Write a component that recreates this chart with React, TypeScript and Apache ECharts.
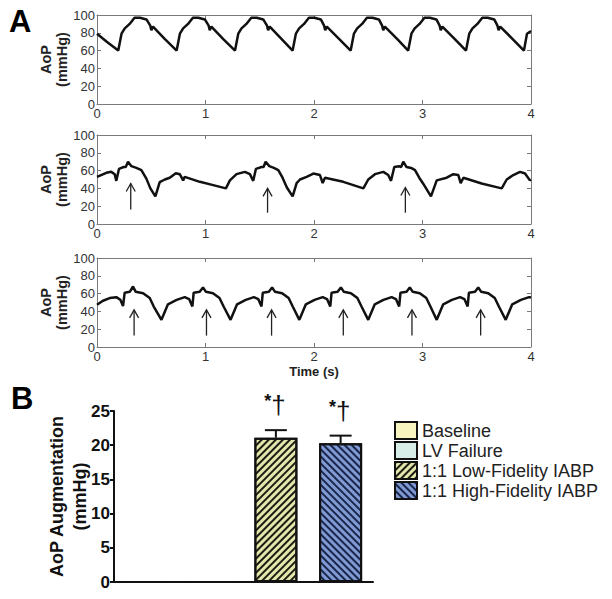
import React, { useEffect, useRef } from "react";
import * as echarts from "echarts";

// ---------- Panel A data (time s, AoP mmHg) ----------
const topTrace: number[][] = [
  [0, 79], [0.09, 70], [0.196, 60],
  [0.226, 79], [0.256, 85], [0.301, 90], [0.346, 97], [0.396, 97], [0.456, 95], [0.491, 88], [0.501, 83], [0.516, 87], [0.626, 73], [0.734, 60],
  [0.764, 79], [0.794, 85], [0.839, 90], [0.884, 97], [0.934, 97], [0.994, 95], [1.029, 88], [1.039, 83], [1.054, 87], [1.164, 73], [1.272, 60],
  [1.302, 79], [1.332, 85], [1.377, 90], [1.422, 97], [1.472, 97], [1.532, 95], [1.567, 88], [1.577, 83], [1.592, 87], [1.702, 73], [1.803, 60],
  [1.833, 79], [1.863, 85], [1.908, 90], [1.953, 97], [2.003, 97], [2.063, 95], [2.093, 88], [2.103, 83], [2.118, 87], [2.233, 73], [2.338, 60],
  [2.368, 79], [2.398, 85], [2.443, 90], [2.488, 97], [2.538, 97], [2.598, 95], [2.628, 88], [2.638, 83], [2.653, 87], [2.768, 73], [2.868, 60],
  [2.898, 79], [2.928, 85], [2.973, 90], [3.018, 97], [3.068, 97], [3.128, 95], [3.158, 88], [3.168, 83], [3.183, 87], [3.298, 73], [3.401, 60],
  [3.431, 79], [3.461, 85], [3.506, 90], [3.551, 97], [3.601, 97], [3.661, 95], [3.691, 88], [3.701, 83], [3.716, 87], [3.831, 73], [3.935, 60],
  [3.963, 79], [4.0, 82],
];

const midTrace: number[][] = [
  [0, 53], [0.086, 57.5], [0.132, 58.6], [0.163, 56], [0.178, 48.5], [0.203, 62], [0.246, 64], [0.265, 64], [0.286, 70], [0.317, 65],
  [0.363, 63], [0.409, 60.5], [0.455, 51], [0.492, 40], [0.538, 31], [0.578, 47], [0.625, 50], [0.671, 52], [0.726, 57], [0.763, 56],
  [0.794, 49], [0.809, 53], [0.948, 47.4], [1.071, 43.7], [1.188, 40], [1.225, 49], [1.286, 56], [1.363, 58.6], [1.409, 56], [1.44, 48.5],
  [1.465, 62], [1.517, 64], [1.535, 64], [1.554, 70], [1.588, 65], [1.63, 63], [1.671, 60.5], [1.71, 52], [1.75, 41], [1.803, 31],
  [1.84, 46], [1.871, 50], [1.932, 53], [1.994, 56.7], [2.055, 55], [2.08, 46], [2.101, 52], [2.27, 47.4], [2.455, 40], [2.5, 50],
  [2.562, 56], [2.639, 58.6], [2.684, 55], [2.71, 48.5], [2.74, 64], [2.783, 65], [2.803, 64], [2.823, 70], [2.853, 64], [2.895, 63],
  [2.931, 60.5], [2.97, 52], [3.008, 45], [3.078, 31], [3.131, 49], [3.223, 52], [3.284, 56], [3.33, 55], [3.352, 46], [3.377, 52],
  [3.545, 45.5], [3.73, 40], [3.776, 50], [3.837, 55], [3.899, 58.6], [3.945, 56.7], [3.99, 49], [4.0, 50],
];

const botTrace: number[][] = [
  [0, 47.4], [0.055, 52], [0.117, 55], [0.178, 56], [0.215, 53], [0.24, 46], [0.255, 61], [0.302, 62], [0.332, 68], [0.357, 62], [0.425, 60.5], [0.486, 55], [0.523, 45.5], [0.594, 30.5],
  [0.654, 48], [0.734, 53], [0.809, 56], [0.849, 53.8], [0.879, 45.5], [0.891, 61], [0.947, 62], [0.977, 67], [1.004, 62], [1.069, 60.5], [1.129, 55], [1.167, 45.5], [1.231, 30.5],
  [1.291, 48], [1.371, 53], [1.446, 56], [1.486, 53.8], [1.516, 45.5], [1.528, 61], [1.584, 62], [1.614, 67], [1.641, 62], [1.706, 60.5], [1.766, 55], [1.804, 45.5], [1.865, 30.5],
  [1.925, 48], [2.005, 53], [2.08, 56], [2.12, 53.8], [2.15, 45.5], [2.162, 61], [2.218, 62], [2.248, 67], [2.275, 62], [2.34, 60.5], [2.4, 55], [2.438, 45.5], [2.5, 30.5],
  [2.56, 48], [2.64, 53], [2.715, 56], [2.755, 53.8], [2.785, 45.5], [2.797, 61], [2.853, 62], [2.883, 67], [2.91, 62], [2.975, 60.5], [3.035, 55], [3.073, 45.5], [3.131, 30.5],
  [3.191, 48], [3.271, 53], [3.346, 56], [3.386, 53.8], [3.416, 45.5], [3.428, 61], [3.484, 62], [3.514, 67], [3.541, 62], [3.606, 60.5], [3.666, 55], [3.704, 45.5], [3.767, 30.5],
  [3.827, 48], [3.907, 53], [3.982, 56], [4.0, 55.6],
];

// arrows: [time, tip value, tail value]
const midArrows: number[][] = [[0.311, 45.5, 16.4], [1.572, 40, 12.7], [2.842, 41, 12.7]];
const botArrows: number[][] = [
  [0.342, 41.7, 12.8], [1.009, 41.7, 12.8], [1.609, 41.7, 12.8],
  [2.27, 41.7, 12.8], [2.903, 41.7, 12.8], [3.536, 41.7, 12.8],
];

// ---------- Panel B data ----------
const barCategories = ["Baseline", "LV Failure", "1:1 Low-Fidelity IABP", "1:1 High-Fidelity IABP"];
const barMeans = [0, 0, 21.1, 20.3];
const barSem = [0, 0, 1.1, 1.1];
const barSig = ["", "", "*†", "*†"];

const FONT = "Liberation Sans";
const GRAY = "#7a7a7a";

export default function App() {
  const ref = useRef<HTMLDivElement>(null);
  useEffect(() => {
    if (!ref.current) return;
    const chart = echarts.init(ref.current, null, { renderer: "svg" });

    const gridsA = [
      { left: 97, top: 15, width: 434, height: 89 },
      { left: 97, top: 135, width: 434, height: 89 },
      { left: 97, top: 258, width: 434, height: 89 },
    ];
    const xAxes: any[] = [];
    const yAxes: any[] = [];
    gridsA.forEach((_, i) => {
      xAxes.push({
        gridIndex: i, type: "value", min: 0, max: 4, interval: 1, position: "bottom",
        axisLine: { show: true, onZero: false, lineStyle: { color: GRAY, width: 1 } },
        axisTick: { show: true, inside: true, length: 4, lineStyle: { color: GRAY } },
        axisLabel: { color: "#333", fontSize: 13, margin: 3, fontFamily: FONT },
        splitLine: { show: false },
        ...(i === 2
          ? { name: "Time (s)", nameLocation: "middle", nameGap: 18, nameMoveOverlap: false,
              nameTextStyle: { fontWeight: "bold", fontSize: 13, color: "#222", fontFamily: FONT } }
          : {}),
      });
      xAxes.push({
        gridIndex: i, type: "value", min: 0, max: 4, interval: 1, position: "top",
        axisLine: { show: true, onZero: false, lineStyle: { color: GRAY, width: 1 } },
        axisTick: { show: true, inside: true, length: 4, lineStyle: { color: GRAY } },
        axisLabel: { show: false }, splitLine: { show: false },
      });
      yAxes.push({
        gridIndex: i, type: "value", min: 0, max: 100, interval: 20, position: "left",
        axisLine: { show: true, onZero: false, lineStyle: { color: GRAY, width: 1 } },
        axisTick: { show: true, inside: true, length: 4, lineStyle: { color: GRAY } },
        axisLabel: { color: "#333", fontSize: 13, margin: 2, fontFamily: FONT },
        splitLine: { show: false },
        name: "AoP\n(mmHg)", nameLocation: "middle", nameGap: 27, nameMoveOverlap: false,
        nameTextStyle: { fontWeight: "bold", fontSize: 14.5, lineHeight: 16, color: "#222", fontFamily: FONT },
      });
      yAxes.push({
        gridIndex: i, type: "value", min: 0, max: 100, interval: 20, position: "right",
        axisLine: { show: true, onZero: false, lineStyle: { color: GRAY, width: 1 } },
        axisTick: { show: true, inside: true, length: 4, lineStyle: { color: GRAY } },
        axisLabel: { show: false }, splitLine: { show: false },
      });
    });
    // bar panel axes (index 6)
    xAxes.push({
      gridIndex: 3, type: "category", data: barCategories,
      axisLine: { show: true, onZero: false, lineStyle: { color: "#111", width: 2 } },
      axisTick: { show: false }, axisLabel: { show: false }, splitLine: { show: false },
    });
    yAxes.push({
      gridIndex: 3, type: "value", min: 0, max: 25, interval: 5,
      axisLine: { show: true, onZero: false, lineStyle: { color: "#111", width: 2 } },
      axisTick: { show: true, length: 4, lineStyle: { color: "#111", width: 2 } },
      axisLabel: { color: "#111", fontSize: 17, fontWeight: "bold", margin: 4, fontFamily: FONT },
      splitLine: { show: false },
      name: "AoP Augmentation\n(mmHg)", nameLocation: "middle", nameGap: 23, nameMoveOverlap: false,
      nameTextStyle: { fontWeight: "bold", fontSize: 18, lineHeight: 23, color: "#111", fontFamily: FONT },
    });

    const traceSeries = [topTrace, midTrace, botTrace].map((d, i) => ({
      type: "line", xAxisIndex: 2 * i, yAxisIndex: 2 * i, data: d, symbol: "none",
      lineStyle: { color: "#111", width: 2.5 }, silent: true,
    }));

    const arrowRender = (params: any, api: any) => {
      const tip = api.coord([api.value(0), api.value(1)]);
      const tail = api.coord([api.value(0), api.value(2)]);
      return {
        type: "group",
        children: [
          { type: "line", shape: { x1: tail[0], y1: tail[1], x2: tip[0], y2: tip[1] },
            style: { stroke: "#222", lineWidth: 1.3 } },
          { type: "polyline", shape: { points: [[tip[0] - 4.5, tip[1] + 8], [tip[0], tip[1]], [tip[0] + 4.5, tip[1] + 8]] },
            style: { stroke: "#222", lineWidth: 1.3, fill: "none" } },
        ],
      };
    };
    const arrowSeries = [
      { type: "custom", xAxisIndex: 2, yAxisIndex: 2, data: midArrows, renderItem: arrowRender, silent: true },
      { type: "custom", xAxisIndex: 4, yAxisIndex: 4, data: botArrows, renderItem: arrowRender, silent: true },
    ];

    const barStyles = [
      { color: "#f7f4bf", borderColor: "#111", borderWidth: 2 },
      { color: "#d6eee7", borderColor: "#111", borderWidth: 2 },
      { color: "#e4e7ad", borderColor: "#111", borderWidth: 2,
        decal: { symbol: "rect", symbolSize: 1, dashArrayX: [1, 0], dashArrayY: [2, 2.5], rotation: -Math.PI / 4, color: "#1c1c10" } },
      { color: "#7f9ad4", borderColor: "#111", borderWidth: 2,
        decal: { symbol: "rect", symbolSize: 1, dashArrayX: [1, 0], dashArrayY: [2, 2.5], rotation: Math.PI / 4, color: "#1b2748" } },
    ];
    const barSeries = barCategories.map((name, i) => ({
      type: "bar", name, xAxisIndex: 6, yAxisIndex: 6, barWidth: 43, barGap: "-100%",
      data: barCategories.map((_, j) => (j === i ? barMeans[i] : "-")),
      itemStyle: barStyles[i], silent: true,
    }));

    const errData = barMeans
      .map((m, i) => [i, m, m + barSem[i], i])
      .filter((d) => barSem[d[0]] > 0);
    const errSeries = {
      type: "custom", xAxisIndex: 6, yAxisIndex: 6, data: errData, silent: true, z: 1,
      renderItem: (params: any, api: any) => {
        const base = api.coord([api.value(0), api.value(1)]);
        const top = api.coord([api.value(0), api.value(2)]);
        const label = barSig[api.value(3)];
        return {
          type: "group",
          children: [
            { type: "line", shape: { x1: base[0], y1: base[1], x2: top[0], y2: top[1] },
              style: { stroke: "#111", lineWidth: 2 } },
            { type: "line", shape: { x1: top[0] - 11, y1: top[1], x2: top[0] + 11, y2: top[1] },
              style: { stroke: "#111", lineWidth: 2 } },
            { type: "text", x: top[0] - 1, y: top[1] - 12,
              style: { text: label ? "{s|*}{d|†}" : "", align: "center", verticalAlign: "bottom",
                rich: {
                  s: { fontSize: 18, fontWeight: "bold", fontFamily: FONT, fill: "#111", verticalAlign: "top", lineHeight: 26 },
                  d: { fontSize: 26, fontFamily: FONT, fill: "#111", lineHeight: 26 },
                } } },
          ],
        };
      },
    };

    chart.setOption({
      animation: false,
      backgroundColor: "#fff",
      textStyle: { fontFamily: FONT },
      grid: [...gridsA, { left: 114, top: 411, width: 259, height: 171 }],
      xAxis: xAxes,
      yAxis: yAxes,
      legend: {
        orient: "vertical", left: 389, top: 416, itemWidth: 22, itemHeight: 17, itemGap: 1,
        icon: "rect", data: barCategories, selectedMode: false,
        textStyle: { fontSize: 18, color: "#222", fontFamily: FONT },
      },
      graphic: [
        { type: "text", left: 9, top: 6, style: { text: "A", fontSize: 31, fontWeight: "bold", fill: "#000", fontFamily: FONT } },
        { type: "text", left: 11, top: 383, style: { text: "B", fontSize: 31, fontWeight: "bold", fill: "#000", fontFamily: FONT } },
      ],
      series: [...traceSeries, ...arrowSeries, ...barSeries, errSeries],
    });
    return () => chart.dispose();
  }, []);
  return <div ref={ref} style={{ position: "fixed", left: 0, top: 0, width: 612, height: 599, background: "#fff" }} />;
}
